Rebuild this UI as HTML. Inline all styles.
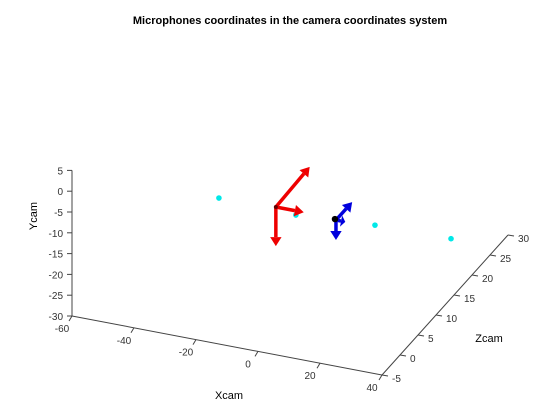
<!DOCTYPE html>
<html><head><meta charset="utf-8"><style>
html,body{margin:0;padding:0;background:#fff;}
svg{display:block;font-family:"Liberation Sans",sans-serif;}
</style></head><body>
<svg id="chart" width="560" height="420" viewBox="0 0 560 420">
<text x="290" y="24" text-anchor="middle" font-size="11" font-weight="bold">Microphones coordinates in the camera coordinates system</text>
<g id="axes"></g>
<g id="marks"></g>
<text x="229" y="399" text-anchor="middle" font-size="11">Xcam</text>
<text x="0" y="0" transform="translate(37,216) rotate(-90)" text-anchor="middle" font-size="11">Ycam</text>
<text x="489" y="342" text-anchor="middle" font-size="11">Zcam</text>
</svg>
<script>
const xTicks=[-60,-40,-20,0,20,40];
const yTicks=[5,0,-5,-10,-15,-20,-25,-30];
const zTicks=[-5,0,5,10,15,20,25,30];
const micX=[-23,2.4,26.7,51];
const micY=[-5,-5,-5,-5];
const micZ=[3.95,3.45,4.5,4.7];
const redOrigin=[-5.1,-5,4.35];
const redVecs=[[0,0.6,9.4],[9,0,0],[0,-9.4,0]];
const blueOrigin=[14.7,-5,4.0];
const blueVecs=[[0,0,4.5],[3,0,0],[0,-4.8,0]];

const NS="http://www.w3.org/2000/svg";
function P(x,y,z){return [72+3.1*(x+60)+3.6*(z+5), 316+0.59*(x+60)-4.0*(z+5)-4.16*(y+30)];}
function mk(tag,attrs,parent){const e=document.createElementNS(NS,tag);for(const k in attrs)e.setAttribute(k,attrs[k]);parent.appendChild(e);return e;}
const ax=document.getElementById('axes'),mg=document.getElementById('marks');
function line(a,b,par,col,w){return mk('line',{x1:a[0],y1:a[1],x2:b[0],y2:b[1],stroke:col,'stroke-width':w},par);}
let l;
l=line(P(-60,5,-5),P(-60,-30,-5),ax,'#444',1);


l=line(P(-60,-30,-5),P(40,-30,-5),ax,'#444',1);


l=line(P(40,-30,-5),P(40,-30,30),ax,'#444',1);


yTicks.forEach(v=>{const p=P(-60,v,-5);line([p[0]-5,p[1]],p,ax,'#444',1);
 const t=mk('text',{x:p[0]-9,y:p[1]+4,'text-anchor':'end','font-size':'10',fill:'#333'},ax);t.textContent=v;
 
 });
xTicks.forEach(v=>{const p=P(v,-30,-5);line(p,[p[0]-3,p[1]+5],ax,'#444',1);
 const t=mk('text',{x:p[0]-10,y:p[1]+16,'text-anchor':'middle','font-size':'10',fill:'#333'},ax);t.textContent=v;
 
 });
zTicks.forEach(v=>{const p=P(40,-30,v);line(p,[p[0]+6,p[1]+1],ax,'#444',1);
 const t=mk('text',{x:p[0]+10,y:p[1]+7,'text-anchor':'start','font-size':'10',fill:'#333'},ax);t.textContent=v;
 
 });
micX.forEach((x,i)=>{const p=P(x,micY[i],micZ[i]);
 const c=mk('circle',{cx:p[0],cy:p[1],r:2.8,fill:'#00e8e8'},mg);
 
 });
function arrow(o,v,col,w){const a=P(o[0],o[1],o[2]),b=P(o[0]+v[0],o[1]+v[1],o[2]+v[2]);
 const dx=b[0]-a[0],dy=b[1]-a[1],L=Math.hypot(dx,dy),ux=dx/L,uy=dy/L,h=Math.min(9,L*0.45);
 const g=mk('g',{},mg);
 line(a,[b[0]-ux*h,b[1]-uy*h],g,col,w);
 const bx=b[0]-ux*h,by=b[1]-uy*h,hw=w*1.2+1.5;
 mk('polygon',{points:`${b[0]},${b[1]} ${bx-uy*hw},${by+ux*hw} ${bx+uy*hw},${by-ux*hw}`,fill:col},g);
 return g;}
redVecs.forEach(v=>{const g=arrow(redOrigin,v,'#ee0000',3.5);
 
 });
blueVecs.forEach(v=>{const g=arrow(blueOrigin,v,'#0000dd',3.5);
 
 });
const bo=P(blueOrigin[0],blueOrigin[1],blueOrigin[2]);
const d=mk('circle',{cx:bo[0]-1,cy:bo[1]-1,r:3.2,fill:'#000'},mg);


const ro=P(redOrigin[0],redOrigin[1],redOrigin[2]);
const d2=mk('circle',{cx:ro[0],cy:ro[1],r:2,fill:'#600'},mg);


</script>
</body></html>
